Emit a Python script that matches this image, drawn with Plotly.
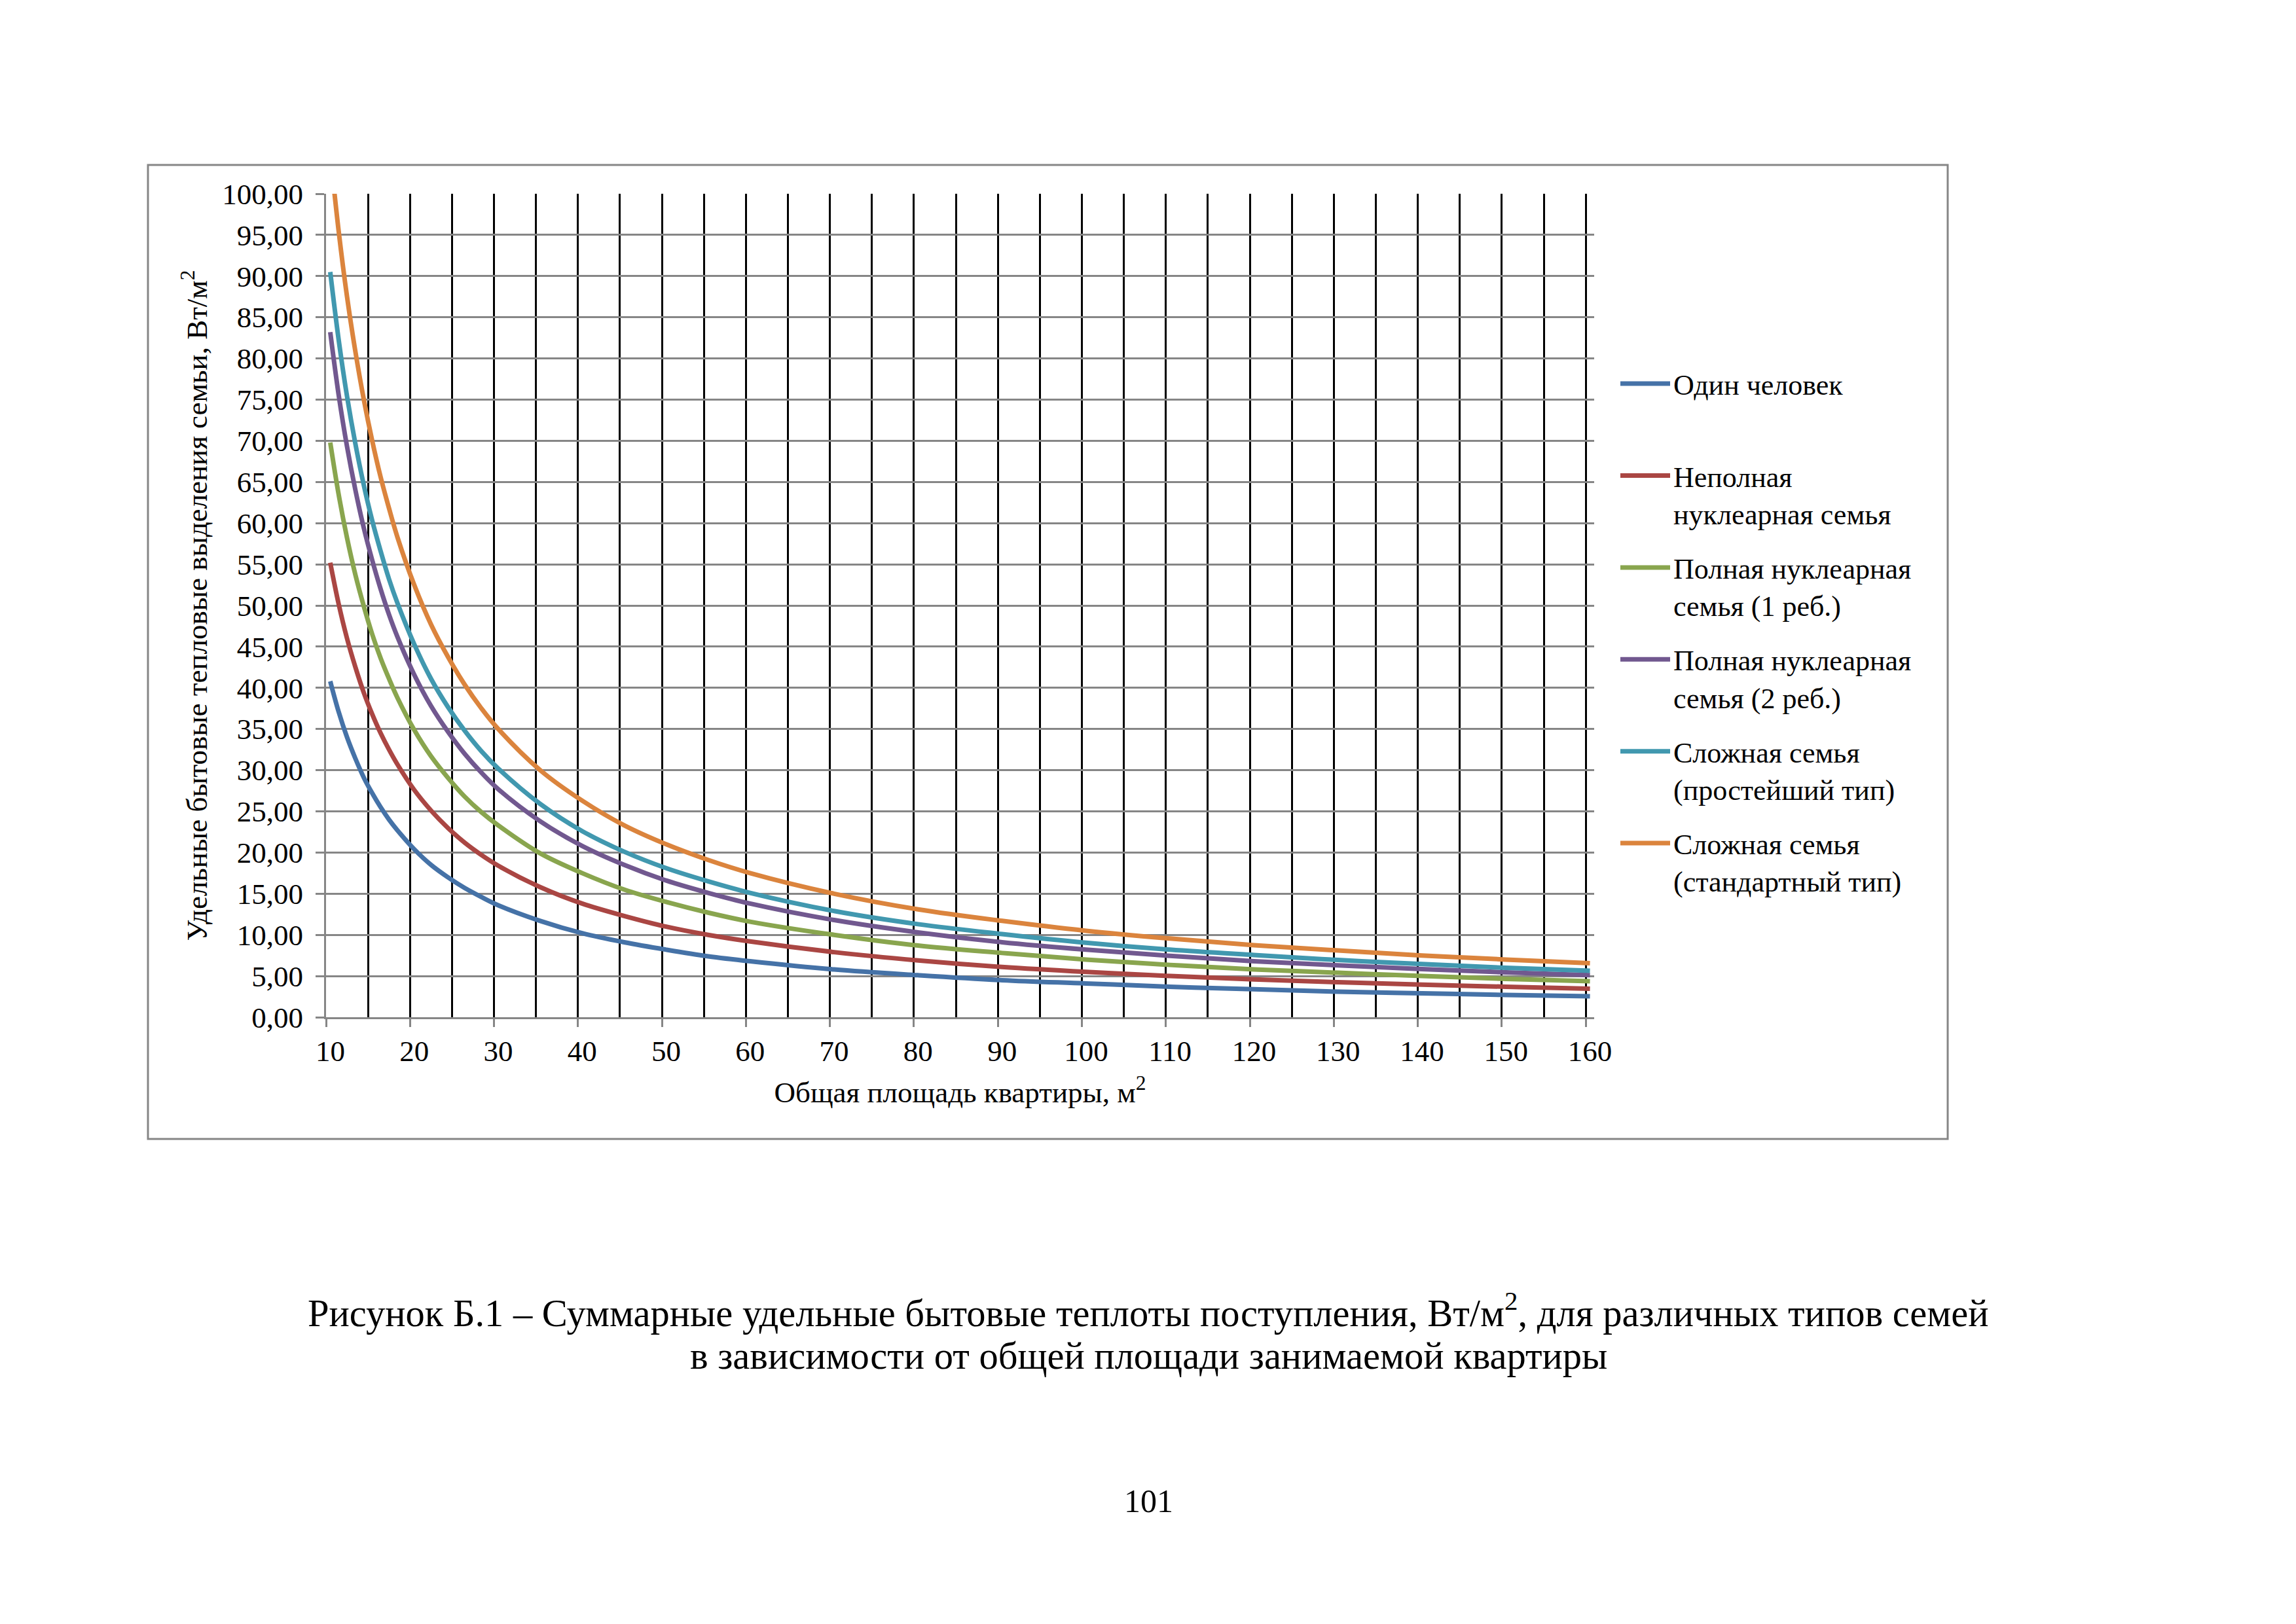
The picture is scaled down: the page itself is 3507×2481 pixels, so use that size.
import plotly.graph_objects as go

# Общая площадь квартиры, м2 (точки)
area = [10, 11, 12, 13, 14, 15, 16, 17, 18, 20, 22, 24, 26, 28, 30, 35, 40, 45, 50,
        55, 60, 70, 80, 90, 100, 110, 120, 130, 140, 150, 160]

one_person = [40.8, 37.1, 34.0, 31.4, 29.1, 27.2, 25.5, 24.0, 22.7, 20.4, 18.5, 17.0, 15.7,
              14.6, 13.6, 11.7, 10.2, 9.1, 8.2, 7.4, 6.8, 5.8, 5.1, 4.5, 4.1, 3.7, 3.4,
              3.1, 2.9, 2.7, 2.55]
incomplete_nuclear = [55.2, 50.2, 46.0, 42.5, 39.4, 36.8, 34.5, 32.5, 30.7, 27.6, 25.1, 23.0,
                      21.2, 19.7, 18.4, 15.8, 13.8, 12.3, 11.0, 10.0, 9.2, 7.9, 6.9, 6.1,
                      5.5, 5.0, 4.6, 4.25, 3.95, 3.7, 3.45]
full_nuclear_1 = [69.8, 63.5, 58.2, 53.7, 49.9, 46.5, 43.6, 41.1, 38.8, 34.9, 31.7, 29.1,
                  26.8, 24.9, 23.3, 19.9, 17.5, 15.5, 14.0, 12.7, 11.6, 10.0, 8.7, 7.8,
                  7.0, 6.35, 5.8, 5.4, 5.0, 4.65, 4.37]
full_nuclear_2 = [83.2, 75.6, 69.3, 64.0, 59.4, 55.5, 52.0, 48.9, 46.2, 41.6, 37.8, 34.7,
                  32.0, 29.7, 27.7, 23.8, 20.8, 18.5, 16.6, 15.1, 13.8, 11.8, 10.3, 9.1,
                  8.2, 7.45, 6.8, 6.3, 5.85, 5.45, 5.1]
complex_simple = [90.5, 82.3, 75.4, 69.6, 64.6, 60.3, 56.6, 53.2, 50.3, 45.3, 41.1, 37.7,
                  34.8, 32.3, 30.2, 25.9, 22.6, 20.1, 18.1, 16.5, 15.1, 12.9, 11.3, 10.1,
                  9.05, 8.2, 7.55, 6.95, 6.45, 6.0, 5.65]
complex_standard = [105.0, 95.5, 87.5, 80.8, 75.0, 70.0, 65.6, 61.8, 58.3, 52.5, 47.7, 43.8,
                    40.4, 37.5, 35.0, 30.0, 26.3, 23.3, 21.0, 19.1, 17.5, 15.0, 13.1, 11.7,
                    10.5, 9.55, 8.75, 8.1, 7.5, 7.0, 6.55]

series_names = [
    "Один человек<br>\u00a0",
    "Неполная<br>нуклеарная семья",
    "Полная нуклеарная<br>семья (1 реб.)",
    "Полная нуклеарная<br>семья (2 реб.)",
    "Сложная семья<br>(простейший тип)",
    "Сложная семья<br>(стандартный тип)",
]
series_values = [one_person, incomplete_nuclear, full_nuclear_1, full_nuclear_2,
                 complex_simple, complex_standard]
series_colors = ["#4572A7", "#AA4643", "#89A54E", "#71588F", "#4198AF", "#DB843D"]

x_tick_vals = list(range(10, 161, 10))
x_tick_text = [str(v) for v in x_tick_vals]
x_grid_vals = [v + 0.5 for v in range(14, 160, 5)]
x_mark_vals = [v + 0.5 for v in range(9, 160, 10)]

FONT = "Liberation Serif"
GREY = "#868686"

fig = go.Figure()
for i, (name, vals, col) in enumerate(zip(series_names, series_values, series_colors)):
    fig.add_trace(go.Scatter(
        x=area, y=vals, mode="lines", name=name, legendgroup=f"g{i}",
        line=dict(color=col, width=7, shape="spline", smoothing=1.0),
        xaxis="x", yaxis="y",
    ))

# invisible trace to host the tick-mark axis
fig.add_trace(go.Scatter(x=[9.5], y=[0], mode="markers", marker=dict(opacity=0),
                         showlegend=False, hoverinfo="skip", xaxis="x2", yaxis="y"))

W, H = 3507, 2481
OFF = 8  # page body margin of the html page
L, R, T, B = 498, 2435, 296, 1554   # plot area in page pixels
pw, ph = R - L, B - T

def px(x):
    return (x - L) / pw

def py(y):
    return (B - y) / ph

fig.update_layout(
    width=W, height=H,
    margin=dict(l=L - OFF, r=W - (R - OFF), t=T - OFF, b=H - (B - OFF)),
    paper_bgcolor="white", plot_bgcolor="white",
    separators=", ",
    font=dict(family=FONT, size=45, color="black"),
    showlegend=True,
    legend=dict(
        x=px(2470), y=py(551), xanchor="left", yanchor="top",
        font=dict(family=FONT, size=44, color="black"),
        bgcolor="rgba(0,0,0,0)", borderwidth=0,
        itemwidth=76, valign="top", tracegroupgap=23,
        traceorder="grouped",
    ),
    xaxis=dict(
        range=[9.5, 160.5], tickmode="array", tickvals=x_tick_vals, ticktext=x_tick_text,
        ticks="", showgrid=False, zeroline=False,
        showline=True, linecolor=GREY, linewidth=3,
        tickfont=dict(family=FONT, size=45),
        ticklabelstandoff=10,
        minor=dict(tickmode="array", tickvals=x_grid_vals, showgrid=True,
                   gridcolor="black", gridwidth=3, ticks=""),
        title=dict(text="Общая площадь квартиры, м<sup>2</sup>",
                   font=dict(family=FONT, size=45), standoff=23),
    ),
    xaxis2=dict(
        range=[9.5, 160.5], overlaying="x", anchor="y", side="bottom",
        tickmode="array", tickvals=x_mark_vals, ticks="outside", ticklen=14,
        tickwidth=3, tickcolor=GREY, showticklabels=False, showgrid=False,
        zeroline=False, showline=False,
    ),
    yaxis=dict(
        range=[0, 100], dtick=5, tick0=0, tickformat=".2f",
        showgrid=True, gridcolor=GREY, gridwidth=3, zeroline=False,
        showline=True, linecolor=GREY, linewidth=3,
        ticks="outside", ticklen=13, tickwidth=3, tickcolor=GREY,
        tickfont=dict(family=FONT, size=45),
        ticklabelstandoff=10,
        title=dict(text="Удельные бытовые тепловые выделения семьи, Вт/м<sup>2</sup>",
                   font=dict(family=FONT, size=45), standoff=9),
    ),
    shapes=[dict(type="rect", xref="paper", yref="paper",
                 x0=px(226), x1=px(2975), y0=py(1740), y1=py(252),
                 line=dict(color=GREY, width=3), fillcolor="rgba(0,0,0,0)", layer="below")],
    annotations=[
        dict(text="Рисунок Б.1 – Суммарные удельные бытовые теплоты поступления, Вт/м<sup>2</sup>, для различных типов семей",
             xref="paper", yref="paper", x=px(1754), y=py(2002), xanchor="center", yanchor="middle",
             showarrow=False, font=dict(family=FONT, size=58.5, color="black")),
        dict(text="в зависимости от общей площади занимаемой квартиры",
             xref="paper", yref="paper", x=px(1754), y=py(2071), xanchor="center", yanchor="middle",
             showarrow=False, font=dict(family=FONT, size=58.5, color="black")),
        dict(text="101", xref="paper", yref="paper", x=px(1754), y=py(2293),
             xanchor="center", yanchor="middle", showarrow=False,
             font=dict(family=FONT, size=50, color="black")),
    ],
)

fig.write_html("out.html")
